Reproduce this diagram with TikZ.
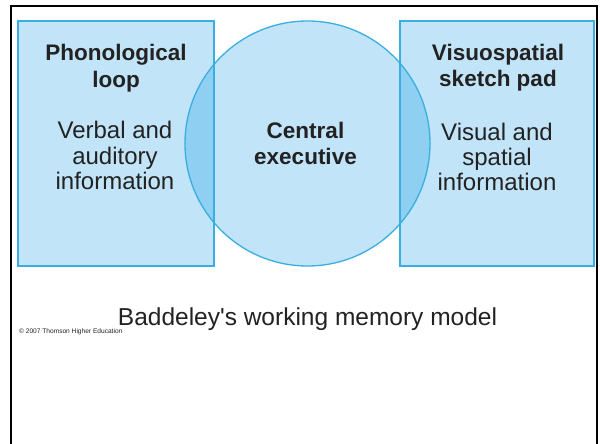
\documentclass[tikz,border=0pt]{standalone}
\usepackage{fontspec}
\setmainfont{Liberation Sans}[Ligatures=TeXOff]
\definecolor{boxfill}{HTML}{C2E4F8}
\definecolor{overlapfill}{HTML}{8FCFF2}
\definecolor{edgeblue}{HTML}{3AAEE0}
\definecolor{inkgrey}{HTML}{222222}
\tikzset{
  panel/.style={rectangle, fill=boxfill, inner sep=0pt, outer sep=0pt},
  hub/.style={circle, fill=boxfill, inner sep=0pt, outer sep=0pt, minimum size=245pt},
  edge/.style={draw=edgeblue, line width=1.3pt},
  heading/.style={anchor=base, text=inkgrey, inner sep=0pt, font=\fontsize{22.5}{27}\selectfont\bfseries},
  body/.style={anchor=base, text=inkgrey, inner sep=0pt, font=\fontsize{24}{28}\selectfont},
}
\begin{document}
\begin{tikzpicture}[x=1pt, y=-1pt]
\useasboundingbox (0,0) rectangle (600,444);
\fill[white] (0,0) rectangle (600,444);

% slide frame (open at the bottom)
\coordinate (frameBL) at (11,444);
\coordinate (frameTL) at (11,6);
\coordinate (frameTR) at (597,6);
\coordinate (frameBR) at (597,444);
\draw[black, line width=2.4pt] (frameBL) -- (frameTL) -- (frameTR) -- (frameBR);

% the three components
\node[panel, minimum width=196pt, minimum height=245pt] (loopbox) at (116,143.5) {};
\node[panel, minimum width=194pt, minimum height=245pt] (sketchbox) at (497,143.5) {};
\node[hub] (exec) at (307.5,143.5) {};

% overlap of the central executive with each slave system
\begin{scope}
  \clip (exec.center) circle (122.5pt);
  \fill[overlapfill] (loopbox.north west) rectangle (loopbox.south east);
  \fill[overlapfill] (sketchbox.north west) rectangle (sketchbox.south east);
\end{scope}

% outlines
\draw[edge] (loopbox.north west) rectangle (loopbox.south east);
\draw[edge] (sketchbox.north west) rectangle (sketchbox.south east);
\draw[edge] (exec.center) circle (122.5pt);

% phonological loop
\node[heading] (loopT1) at (116,61) {Phonological};
\node[heading] (loopT2) at (116,88) {loop};
\node[body] (loopB1) at (115,139) {Verbal and};
\node[body] (loopB2) at (115,164) {auditory};
\node[body] (loopB3) at (115,189) {information};

% central executive
\node[heading] (execT1) at (305.5,139) {Central};
\node[heading] (execT2) at (305.5,164.5) {executive};

% visuospatial sketch pad
\node[heading] (padT1) at (498,61) {Visuospatial};
\node[heading] (padT2) at (498,87) {sketch pad};
\node[body] (padB1) at (497,140) {Visual and};
\node[body] (padB2) at (497,165) {spatial};
\node[body] (padB3) at (497,190) {information};

% caption and credit line
\node[anchor=base, text=inkgrey, inner sep=0pt, font=\fontsize{24.5}{29}\selectfont] (caption) at (307.5,325) {Baddeley's working memory model};
\node[anchor=base west, text=inkgrey, inner sep=0pt, font=\fontsize{6.6}{8}\selectfont] (credit) at (19,333) {© 2007 Thomson Higher Education};
\end{tikzpicture}
\end{document}
